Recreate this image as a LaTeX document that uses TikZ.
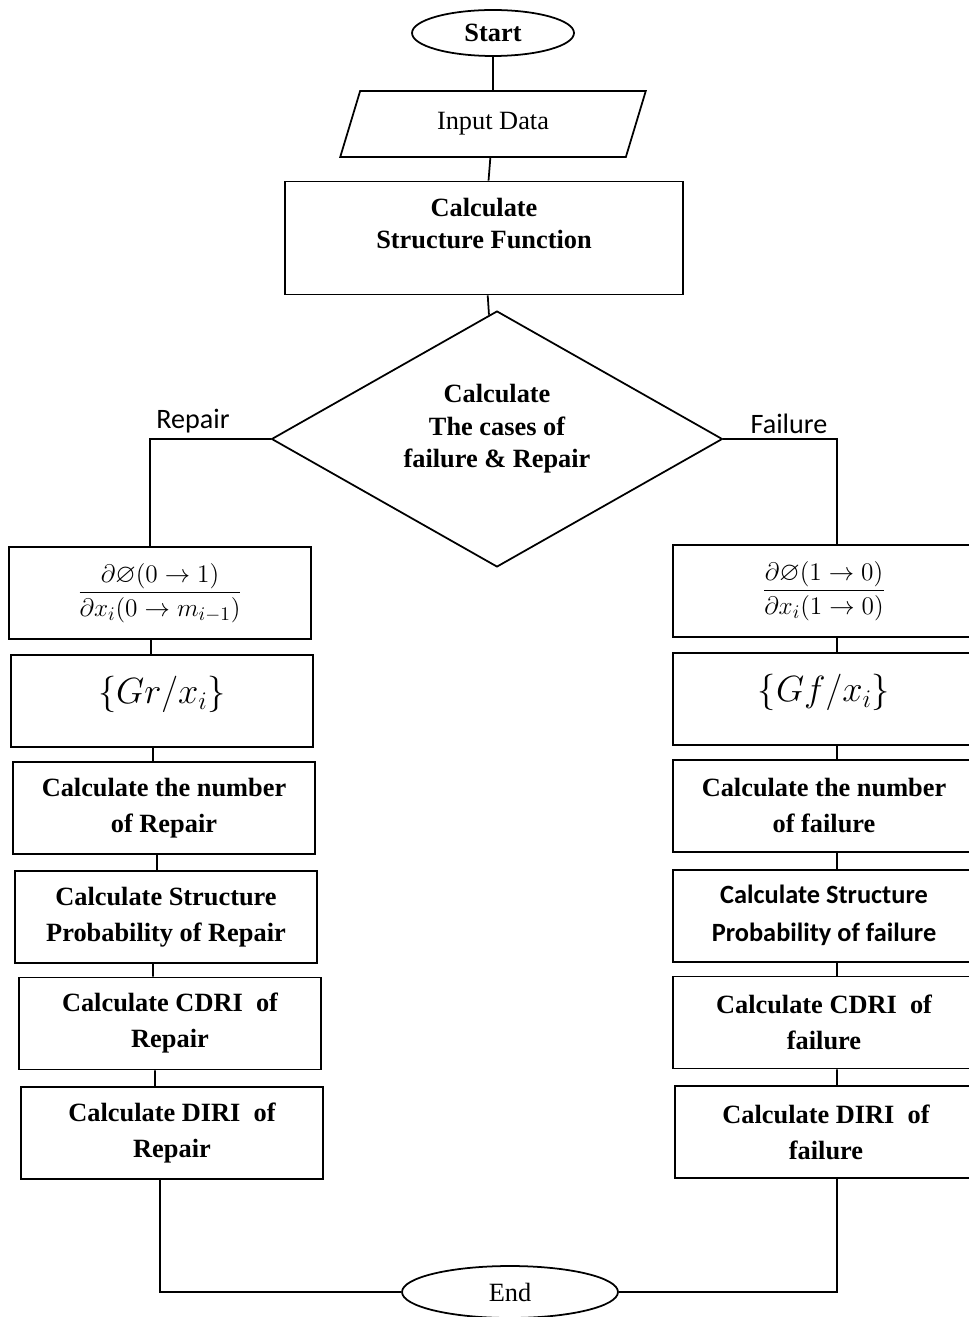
\documentclass[tikz,border=0pt]{standalone}
\usepackage{amsmath,amssymb}
\usepackage{fontspec}
\setmainfont{Liberation Serif}
\newfontfamily\calfont{Carlito}
\usetikzlibrary{shapes.geometric, positioning, calc}

\begin{document}
\begin{tikzpicture}[
  x=0.02cm, y=-0.02cm,
  line width=1pt,
  term/.style={ellipse, draw, minimum width=3.24cm,
               minimum height=0.92cm, inner sep=0pt,
               font=\fontsize{15}{18}\selectfont},
  io/.style={trapezium, draw, trapezium left angle=75,
             trapezium right angle=105, trapezium stretches=true,
             minimum width=6.14cm, minimum height=1.32cm,
             font=\fontsize{15}{18}\selectfont},
  proc/.style={rectangle, draw, minimum width=6.04cm,
               minimum height=1.84cm, align=center, inner sep=2pt,
               font=\fontsize{15}{20.5}\selectfont\bfseries},
  decide/.style={diamond, draw, aspect=1.76, minimum width=9.02cm,
                 minimum height=5.12cm, align=center, inner sep=0pt,
                 font=\fontsize{15}{18.5}\selectfont\bfseries},
  lbl/.style={font=\calfont\fontsize{16}{19}\selectfont}
]
  \useasboundingbox (0,0) rectangle (969,1317);

  % main column
  \node[term, font=\fontsize{15}{18}\selectfont\bfseries] (start)
    at (493,33) {Start};
  \node[io] (input) at (493,124) {Input Data};
  \node[proc, minimum width=7.96cm, minimum height=2.26cm,
        font=\fontsize{15}{18.2}\selectfont\bfseries] (sfun) at (484,238)
    {Calculate\\Structure Function\\[-2pt]\mbox{}};
  \node[decide] (cases) at (497,439)
    {Calculate\\The cases of\\failure \& Repair\\[-4pt]\mbox{}};
  \node[lbl] (repair) at (193,421) {Repair};
  \node[lbl] (failure) at (789,424) {Failure};

  % repair branch
  \node[proc] (rfrac) at (160,593)
    {$\dfrac{\partial\varnothing(0\to1)}{\partial x_i(0\to m_{i-1})}$};
  \node[proc, below=0.28cm of rfrac, xshift=0.04cm,
        font=\fontsize{21}{24}\selectfont] (rgrp)
    {$\{Gr/x_i\}$\\[-12pt]\mbox{}};
  \node[proc, below=0.27cm of rgrp, xshift=0.04cm] (rnum)
    {Calculate the number\\of Repair};
  \node[proc, below=0.3cm of rnum, xshift=0.04cm] (rprob)
    {Calculate Structure\\Probability of Repair};
  \node[proc, below=0.26cm of rprob, xshift=0.08cm] (rcdri)
    {Calculate CDRI\ \ of\\Repair};
  \node[proc, below=0.32cm of rcdri, xshift=0.04cm] (rdiri)
    {Calculate DIRI\ \ of\\Repair};

  % failure branch
  \node[proc] (ffrac) at (824,591)
    {$\dfrac{\partial\varnothing(1\to0)}{\partial x_i(1\to0)}$};
  \node[proc, below=0.28cm of ffrac,
        font=\fontsize{21}{24}\selectfont] (fgrp)
    {$\{Gf/x_i\}$\\[-12pt]\mbox{}};
  \node[proc, below=0.27cm of fgrp] (fnum)
    {Calculate the number\\of failure};
  \node[proc, below=0.32cm of fnum,
        font=\calfont\fontsize{15}{21.6}\selectfont\bfseries] (fprob)
    {Calculate Structure\\Probability of failure};
  \node[proc, below=0.26cm of fprob] (fcdri)
    {Calculate CDRI\ \ of\\failure};
  \node[proc, below=0.32cm of fcdri, xshift=0.04cm] (fdiri)
    {Calculate DIRI\ \ of\\failure};

  \node[term, minimum width=4.32cm, minimum height=1.04cm] (end)
    at (510,1292) {End};

  % connectors
  \draw (start) -- (input);
  \draw (input) -- (sfun);
  \draw (sfun) -- (cases);
  \draw (cases.west) -| ([xshift=-0.2cm]rfrac.north);
  \draw (cases.east) -| ([xshift=0.26cm]ffrac.north);

  \draw ([xshift=-0.18cm]rfrac.south) -- ([xshift=-0.22cm]rgrp.north);
  \draw ([xshift=-0.18cm]rgrp.south) -- ([xshift=-0.22cm]rnum.north);
  \draw ([xshift=-0.14cm]rnum.south) -- ([xshift=-0.18cm]rprob.north);
  \draw ([xshift=-0.26cm]rprob.south) -- ([xshift=-0.34cm]rcdri.north);
  \draw ([xshift=-0.3cm]rcdri.south) -- ([xshift=-0.34cm]rdiri.north);

  \draw ([xshift=0.26cm]ffrac.south) -- ([xshift=0.26cm]fgrp.north);
  \draw ([xshift=0.26cm]fgrp.south) -- ([xshift=0.26cm]fnum.north);
  \draw ([xshift=0.26cm]fnum.south) -- ([xshift=0.26cm]fprob.north);
  \draw ([xshift=0.26cm]fprob.south) -- ([xshift=0.26cm]fcdri.north);
  \draw ([xshift=0.26cm]fcdri.south) -- ([xshift=0.22cm]fdiri.north);

  \draw ([xshift=-0.24cm]rdiri.south) |- (end.west);
  \draw (end.east) -| ([xshift=0.22cm]fdiri.south);
\end{tikzpicture}
\end{document}
